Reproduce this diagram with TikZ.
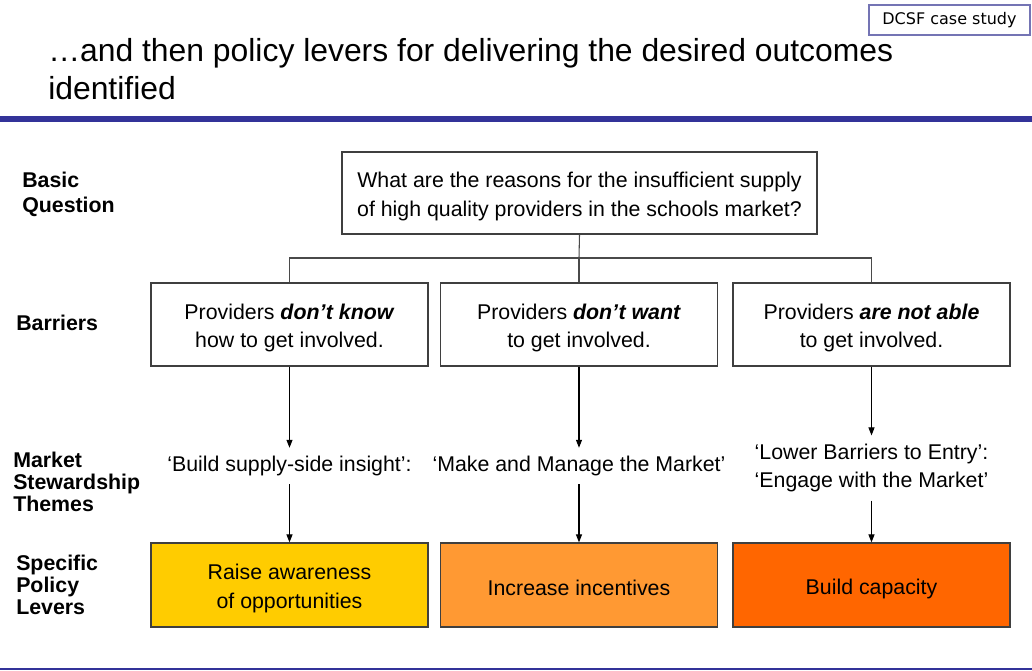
\documentclass[tikz,border=0pt]{standalone}
\usepackage{fontspec}
\setmainfont{Liberation Sans}
\newfontfamily\tagfont{DejaVu Sans}
\usetikzlibrary{arrows.meta,positioning}
\definecolor{rule}{HTML}{333399}
\definecolor{frame}{HTML}{3F3F3F}
\definecolor{link}{HTML}{4A4A4A}
\definecolor{tagline}{HTML}{7474B4}
\definecolor{leverA}{HTML}{FFCC00}
\definecolor{leverB}{HTML}{FF9933}
\definecolor{leverC}{HTML}{FF6600}
\newcommand\topgap{\rule{0pt}{17pt}}
\newcommand\botgap{\rule[-1pt]{0pt}{1pt}}
\tikzset{
  body/.style={font=\fontsize{16}{21.5}\selectfont, align=center},
  boxed/.style={body, draw=frame, inner sep=0pt},
  qbox/.style={boxed, line width=1pt, fill=white,
    minimum width=356.25pt, minimum height=61.5pt},
  barrier/.style={boxed, line width=1pt, fill=white,
    minimum width=207.75pt, minimum height=62.25pt},
  lever/.style={boxed, line width=0.9pt,
    minimum width=207.75pt, minimum height=63pt},
  theme/.style={body, inner xsep=0pt, inner ysep=6pt},
  rowlab/.style={font=\bfseries\fontsize{16}{16.4}\selectfont, align=left,
    anchor=west, inner sep=0pt},
  link/.style={draw=link, line width=0.8pt},
  arr/.style={draw=black, line width=0.8pt, -{Triangle[length=6pt,width=4.5pt]}},
}

\begin{document}
\begin{tikzpicture}[x=0.75pt,y=-0.75pt]
  \useasboundingbox[fill=white] (0,0) rectangle (1032,671);

  % header
  \node[draw=tagline, line width=0.8pt, minimum width=120.75pt, minimum height=22.5pt,
    inner sep=0pt, font=\tagfont\fontsize{12}{14}\selectfont] (tag) at (949.5,20) {DCSF case study};
  \node[anchor=west, align=left, inner sep=0pt, font=\fontsize{23.9}{28.5}\selectfont]
    (title) at (48,69) {…and then policy levers for delivering the desired outcomes\\identified};
  \fill[rule] (0,116) rectangle (1032,122);
  \fill[rule] (0,668) rectangle (1032,670);

  % row labels
  \node[rowlab, font=\bfseries\fontsize{16}{18.75}\selectfont] (labQ) at (22,194.5) {Basic\\Question};
  \node[rowlab] (labB) at (16,323) {Barriers};
  \node[rowlab] (labT) at (13,482) {Market\\Stewardship\\Themes};
  \node[rowlab] (labL) at (16,585) {Specific\\Policy\\Levers};

  % question and barriers
  \node[qbox] (q) at (579.5,193) {\topgap What are the reasons for the insufficient supply\\of high quality providers in the schools market?\botgap};
  \node[barrier] (b1) at (289.5,324.5) {\topgap Providers \textbf{\textit{don’t know}}\\how to get involved.\botgap};
  \node[barrier] (b2) at (579,324.5) {\topgap Providers \textbf{\textit{don’t want}}\\to get involved.\botgap};
  \node[barrier] (b3) at (871.5,324.5) {\topgap Providers \textbf{\textit{are not able}}\\to get involved.\botgap};
  \coordinate (split) at (579,258);
  \draw[link] (q.south) -- (split);
  \draw[link] (split) -| (b1.north);
  \draw[link] (split) -- (b2.north);
  \draw[link] (split) -| (b3.north);

  % themes
  \node[theme] (t1) at (289.5,466) {‘Build supply-side insight’:};
  \node[theme] (t2) at (579,466) {‘Make and Manage the Market’};
  \node[theme] (t3) at (871.5,468) {‘Lower Barriers to Entry’:\\‘Engage with the Market’};

  % levers
  \node[lever, fill=leverA] (l1) at (289.5,585) {\topgap Raise awareness\\of opportunities\botgap};
  \node[lever, fill=leverB] (l2) at (579,585) {\topgap Increase incentives\botgap};
  \node[lever, fill=leverC] (l3) at (871.5,585) {\topgap Build capacity\botgap};

  \foreach \i in {1,2,3} {
    \draw[arr] (b\i.south) -- (t\i.north);
    \draw[arr] (t\i.south) -- (l\i.north);
  }
\end{tikzpicture}
\end{document}
